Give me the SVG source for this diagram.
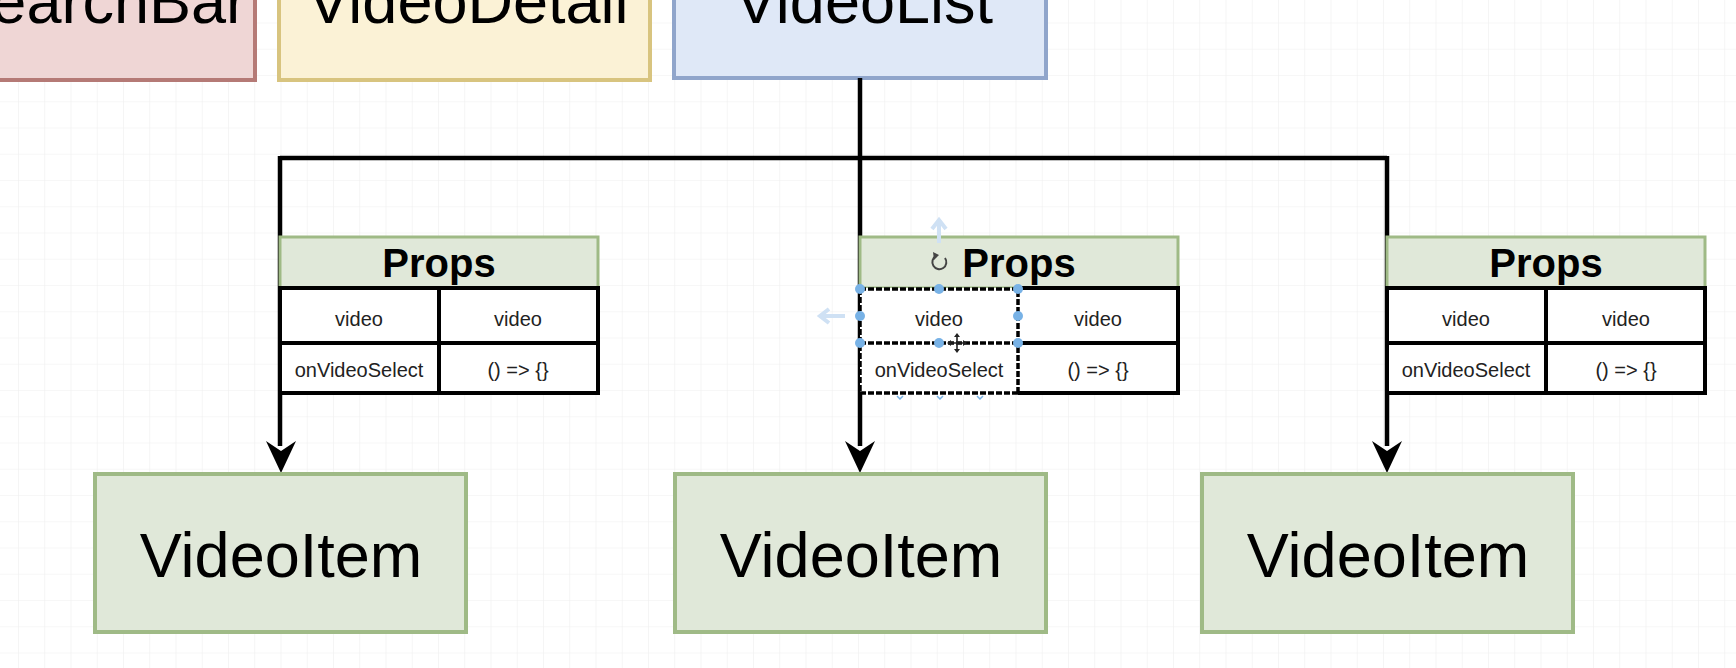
<svg xmlns="http://www.w3.org/2000/svg" width="1736" height="668" viewBox="0 0 1736 668">
  <defs>
    <pattern id="gridMinor" x="18" y="22.5" width="26.25" height="26.25" patternUnits="userSpaceOnUse">
      <path d="M 0 0 V 26.25 M 0 0 H 26.25" fill="none" stroke="#efefef" stroke-width="1.2"/>
    </pattern>
    <style>
      .lbl { font-family: "Liberation Sans", Arial, sans-serif; fill: #000; text-anchor: middle; }
      .big { font-size: 63px; }
      .hdr { font-size: 40px; font-weight: bold; }
      .cell { font-size: 20px; fill: #222; }
      .pink { fill: #efd6d5; stroke: #b57a76; stroke-width: 4; }
      .yellow { fill: #fbf2d6; stroke: #d8c47f; stroke-width: 4; }
      .blue { fill: #dfe8f7; stroke: #90a5cb; stroke-width: 4; }
      .green { fill: #e0e8d9; stroke: #9fba86; stroke-width: 4; }
      .thead { fill: #e0e8d9; stroke: #9fba86; stroke-width: 3; }
      .tbody { fill: #fff; stroke: #000; stroke-width: 4; }
      .rule { stroke: #000; stroke-width: 4; fill: none; }
      .conn { stroke: #000; stroke-width: 4.5; fill: none; }
      .head { fill: #000; }
      .handle { fill: #78b2e6; }
      .ghost { stroke: #cfe1f4; stroke-width: 4; fill: none; }
    </style>
  </defs>

  <!-- canvas grid -->
  <rect x="0" y="0" width="1736" height="668" fill="#fff"/>
  <rect x="0" y="0" width="1736" height="668" fill="url(#gridMinor)"/>

  <!-- top-level components -->
  <g id="searchbar">
    <rect class="pink" x="-120" y="-40" width="375" height="120"/>
    <text class="lbl big" x="247" y="23" style="text-anchor:end">SearchBar</text>
  </g>
  <g id="videodetail">
    <rect class="yellow" x="279" y="-40" width="371" height="120"/>
    <text class="lbl big" x="468" y="23">VideoDetail</text>
  </g>
  <g id="videolist">
    <rect class="blue" x="674" y="-40" width="372" height="118"/>
    <text class="lbl big" x="864" y="23">VideoList</text>
  </g>

  <!-- connectors -->
  <g id="connectors">
    <path class="conn" d="M 860 78 V 158"/>
    <path class="conn" d="M 280 158 H 1387"/>
    <path class="conn" d="M 280 156 V 446"/>
    <path class="conn" d="M 860 158 V 446"/>
    <path class="conn" d="M 1387 156 V 446"/>
    <path class="head" d="M 266 441 L 281 473 L 296 441 L 281 451 Z"/>
    <path class="head" d="M 845 441 L 860 473 L 875 441 L 860 451 Z"/>
    <path class="head" d="M 1372 441 L 1387 473 L 1402 441 L 1387 451 Z"/>
  </g>

  <!-- props tables -->
  <g id="props-left">
    <rect class="thead" x="280" y="237" width="318" height="51"/>
    <text class="lbl hdr" x="439" y="277">Props</text>
    <rect class="tbody" x="280" y="288" width="318" height="105"/>
    <path class="rule" d="M 280 343 H 598 M 439 288 V 393"/>
    <text class="lbl cell" x="359" y="326">video</text>
    <text class="lbl cell" x="518" y="326">video</text>
    <text class="lbl cell" x="359" y="377">onVideoSelect</text>
    <text class="lbl cell" x="518" y="377">() =&gt; {}</text>
  </g>

  <g id="props-middle">
    <rect class="thead" x="860" y="237" width="318" height="51"/>
    <text class="lbl hdr" x="1019" y="277">Props</text>
    <rect x="860" y="288" width="318" height="105" fill="#fff"/>
    <path class="rule" d="M 1018 288 H 1178 V 393 H 1018 M 1018 343 H 1178"/>
    <!-- selected cells: dashed outline -->
    <path d="M 860 289 H 1018 V 393 M 860 289 V 393 H 1018 M 860 343 H 1018" fill="none" stroke="#000" stroke-width="3.5" stroke-dasharray="6 2"/>
    <text class="lbl cell" x="939" y="326">video</text>
    <text class="lbl cell" x="1098" y="326">video</text>
    <text class="lbl cell" x="939" y="377">onVideoSelect</text>
    <text class="lbl cell" x="1098" y="377">() =&gt; {}</text>
    <!-- selection handles -->
    <circle class="handle" cx="860" cy="289" r="5"/>
    <circle class="handle" cx="939" cy="289" r="5"/>
    <circle class="handle" cx="1018" cy="289" r="5"/>
    <circle class="handle" cx="860" cy="316" r="5"/>
    <circle class="handle" cx="1018" cy="316" r="5"/>
    <circle class="handle" cx="860" cy="343" r="5"/>
    <circle class="handle" cx="939" cy="343" r="5"/>
    <circle class="handle" cx="1018" cy="343" r="5"/>
    <path d="M 897 396 l 3 3 l 3 -3 M 937 396 l 3 3 l 3 -3 M 977 396 l 3 3 l 3 -3" stroke="#78b2e6" stroke-width="1.5" fill="none"/>
    <!-- rotate icon -->
    <path d="M 945 258 A 7 7 0 1 1 936 256" fill="none" stroke="#444" stroke-width="2"/>
    <path d="M 933 252 L 939 255 L 934 260 Z" fill="#444"/>
    <!-- drag hints -->
    <path class="ghost" d="M 939 243 V 222 M 932 229 L 939 220 L 946 229"/>
    <path class="ghost" d="M 845 316 H 822 M 829 309 L 820 316 L 829 323"/>
    <!-- move cursor -->
    <path d="M 957 335 V 351 M 949 343 H 965" stroke="#222" stroke-width="1.6"/>
    <path d="M 954 337 L 957 333 L 960 337 Z M 954 349 L 957 353 L 960 349 Z M 951 340 L 947 343 L 951 346 Z M 963 340 L 967 343 L 963 346 Z" fill="#222"/>
  </g>

  <g id="props-right">
    <rect class="thead" x="1387" y="237" width="318" height="51"/>
    <text class="lbl hdr" x="1546" y="277">Props</text>
    <rect class="tbody" x="1387" y="288" width="318" height="105"/>
    <path class="rule" d="M 1387 343 H 1705 M 1546 288 V 393"/>
    <text class="lbl cell" x="1466" y="326">video</text>
    <text class="lbl cell" x="1626" y="326">video</text>
    <text class="lbl cell" x="1466" y="377">onVideoSelect</text>
    <text class="lbl cell" x="1626" y="377">() =&gt; {}</text>
  </g>

  <!-- child components -->
  <g id="videoitem-1">
    <rect class="green" x="95" y="474" width="371" height="158"/>
    <text class="lbl big" x="281" y="577">VideoItem</text>
  </g>
  <g id="videoitem-2">
    <rect class="green" x="675" y="474" width="371" height="158"/>
    <text class="lbl big" x="861" y="577">VideoItem</text>
  </g>
  <g id="videoitem-3">
    <rect class="green" x="1202" y="474" width="371" height="158"/>
    <text class="lbl big" x="1388" y="577">VideoItem</text>
  </g>
</svg>
